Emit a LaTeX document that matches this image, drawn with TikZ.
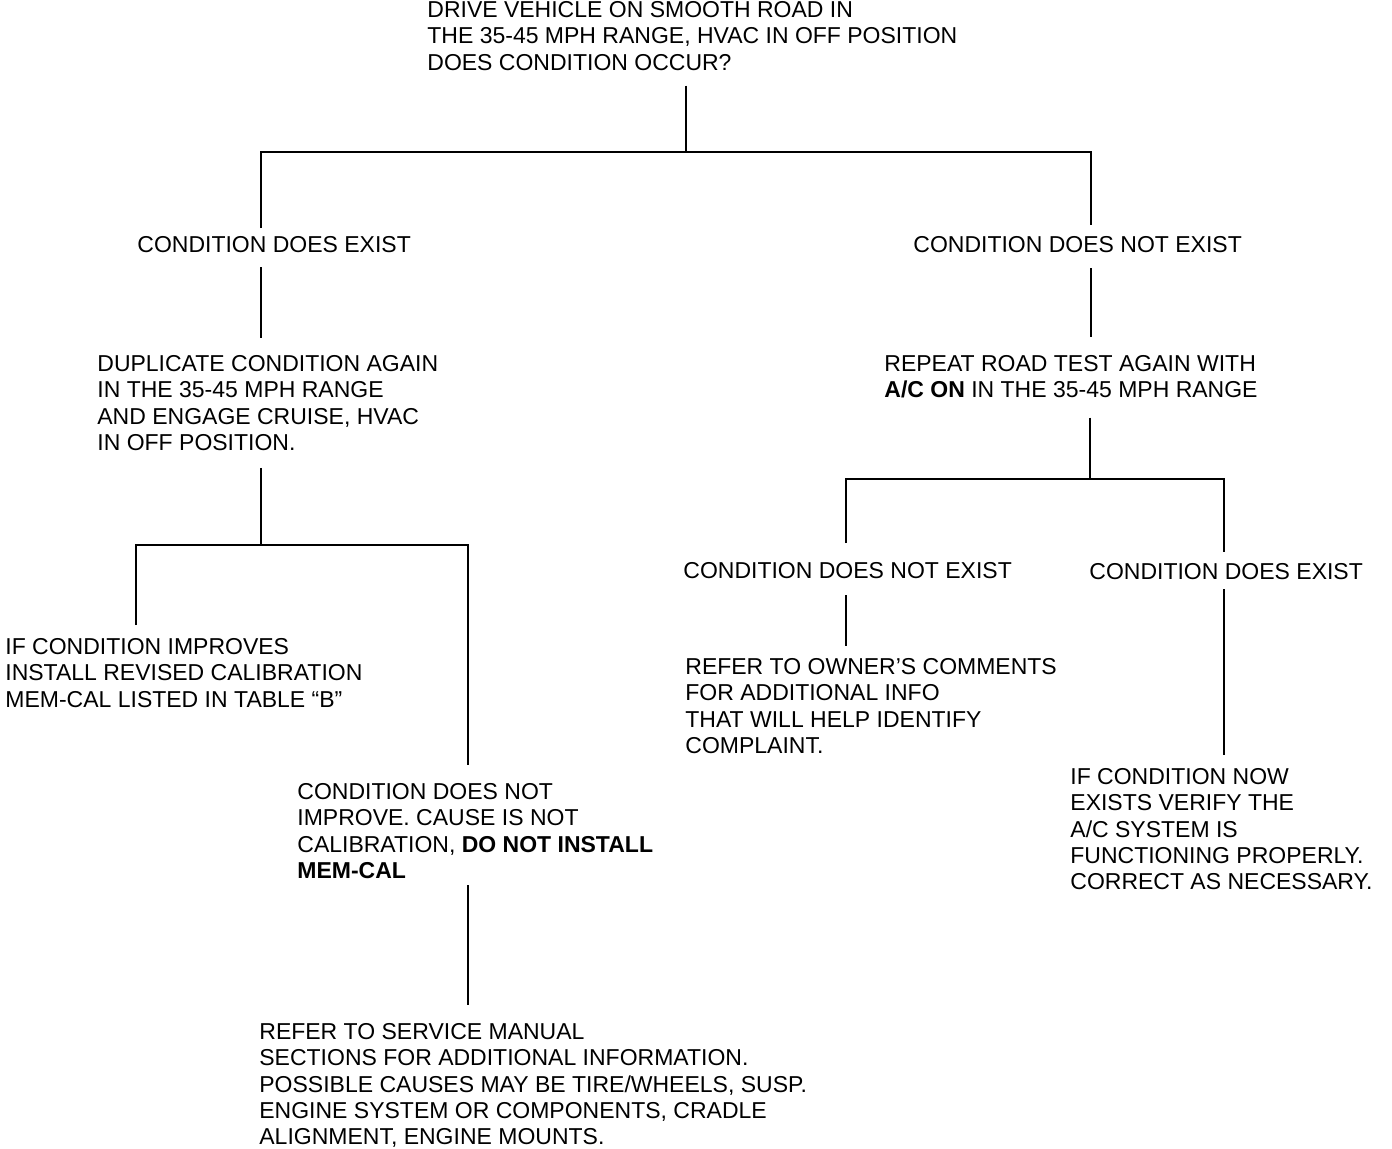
\documentclass[tikz,border=0pt]{standalone}
\usepackage{fontspec}
\setmainfont{Liberation Sans}
\usepackage{tikz}

\begin{document}
\begin{tikzpicture}[x=0.5pt,y=-0.5pt,
    txt/.style={anchor=north west,inner sep=0pt,align=left,
      font=\fontsize{11.5}{13.15}\selectfont},
    wire/.style={line width=1.1pt},
    bar/.style={line width=1.4pt}]
  \useasboundingbox (0,0) rectangle (1392,1148);
  % text blocks
  \node[txt] (drive) at (427,1) {DRIVE VEHICLE ON SMOOTH ROAD IN\\THE 35-45 MPH RANGE, HVAC IN OFF POSITION\\DOES CONDITION OCCUR?};
  \node[txt] (exist) at (137,236) {CONDITION DOES EXIST};
  \node[txt] (noexist) at (913,236) {CONDITION DOES NOT EXIST};
  \node[txt] (dup) at (97,355) {DUPLICATE CONDITION AGAIN\\IN THE 35-45 MPH RANGE\\AND ENGAGE CRUISE, HVAC\\IN OFF POSITION.};
  \node[txt] (repeat) at (884,355) {REPEAT ROAD TEST AGAIN WITH\\\textbf{A/C ON} IN THE 35-45 MPH RANGE};
  \node[txt] (improve) at (5,638) {IF CONDITION IMPROVES\\INSTALL REVISED CALIBRATION\\MEM-CAL LISTED IN TABLE ``B''};
  \node[txt] (noimprove) at (297,783) {CONDITION DOES NOT\\IMPROVE. CAUSE IS NOT\\CALIBRATION, \textbf{DO NOT INSTALL}\\\textbf{MEM-CAL}};
  \node[txt] (service) at (259,1023) {REFER TO SERVICE MANUAL\\SECTIONS FOR ADDITIONAL INFORMATION.\\POSSIBLE CAUSES MAY BE TIRE/WHEELS, SUSP.\\ENGINE SYSTEM OR COMPONENTS, CRADLE\\ALIGNMENT, ENGINE MOUNTS.};
  \node[txt] (noexist2) at (683,562) {CONDITION DOES NOT EXIST};
  \node[txt] (exist2) at (1089,563) {CONDITION DOES EXIST};
  \node[txt] (owner) at (685,658) {REFER TO OWNER'S COMMENTS\\FOR ADDITIONAL INFO\\THAT WILL HELP IDENTIFY\\COMPLAINT.};
  \node[txt] (nowexist) at (1070,768) {IF CONDITION NOW\\EXISTS VERIFY THE\\A/C SYSTEM IS\\FUNCTIONING PROPERLY.\\CORRECT AS NECESSARY.};
  % junctions
  \coordinate (j0) at (686,152);
  \coordinate (j0l) at (261,152);
  \coordinate (j0r) at (1091,152);
  \coordinate (j1) at (261,545);
  \coordinate (j1l) at (136,545);
  \coordinate (j1r) at (468,545);
  \coordinate (j2) at (1090,479);
  \coordinate (j2l) at (846,479);
  \coordinate (j2r) at (1224,479);
  % first split
  \draw[wire,shorten <=7.5pt] (drive.south -| j0) -- (j0);
  \draw[bar,shorten <=4pt,shorten >=5.5pt] (j0l |- exist.north) -- (j0l) -- (j0r) -- (j0r |- noexist.north);
  \draw[wire,shorten <=7pt,shorten >=8.5pt] (exist.south -| j0l) -- (j0l |- dup.north);
  \draw[wire,shorten <=7.5pt,shorten >=9pt] (noexist.south -| j0r) -- (j0r |- repeat.north);
  % left split
  \draw[wire,shorten <=8.5pt] (dup.south -| j1) -- (j1);
  \draw[bar,shorten <=6.5pt,shorten >=9pt] (j1l |- improve.north) -- (j1l) -- (j1r) -- (j1r |- noimprove.north);
  \draw[wire,shorten <=3pt,shorten >=9pt] (noimprove.south -| j1r) -- (j1r |- service.north);
  % right split
  \draw[wire,shorten <=9.5pt] (repeat.south -| j2) -- (j2);
  \draw[bar,shorten <=9.5pt,shorten >=5.5pt] (j2l |- noexist2.north) -- (j2l) -- (j2r) -- (j2r |- exist2.north);
  \draw[wire,shorten <=8pt,shorten >=6pt] (noexist2.south -| j2l) -- (j2l |- owner.north);
  \draw[bar,shorten <=4.5pt,shorten >=6.5pt] (exist2.south -| j2r) -- (j2r |- nowexist.north);
\end{tikzpicture}
\end{document}
